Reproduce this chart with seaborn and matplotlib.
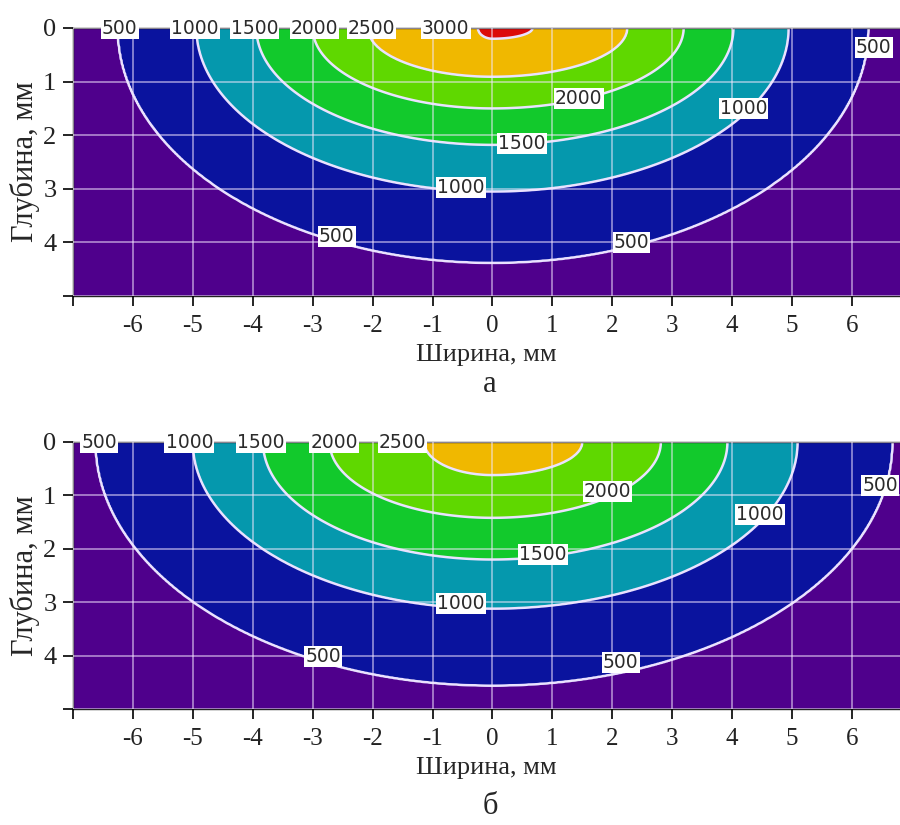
import numpy as np
import seaborn as sns
import matplotlib.pyplot as plt

# contour levels and the extents of each isoline (mm)
# panel "а"
levels_a = [500, 1000, 1500, 2000, 2500, 3000]
left_a = [6.25, 4.94, 3.94, 3.00, 2.08, 0.24]    # half-width to the left of 0 at the surface
right_a = [6.27, 4.94, 4.02, 3.19, 2.25, 0.67]   # half-width to the right of 0
depth_a = [4.38, 3.05, 2.18, 1.50, 0.91, 0.20]   # depth under x = 0
peak_a = 3150

# panel "б"
levels_b = [500, 1000, 1500, 2000, 2500]
left_b = [6.62, 5.00, 3.83, 2.72, 1.14]
right_b = [6.67, 5.09, 3.92, 2.81, 1.50]
depth_b = [4.56, 3.12, 2.20, 1.42, 0.62]
peak_b = 2800

x_ticks = [-6, -5, -4, -3, -2, -1, 0, 1, 2, 3, 4, 5, 6]
y_ticks = [0, 1, 2, 3, 4]

band_colors = ["#4f008c", "#0a139e", "#0598ad", "#12c92c", "#5fd800", "#f0b800", "#dc0a0a"]

# where the inline labels sit (x, y, level)
labels_pos_a = [(-6.22, 0, 500), (-4.97, 0, 1000), (-3.97, 0, 1500), (-2.97, 0, 2000),
                (-2.02, 0, 2500), (-0.78, 0, 3000), (6.36, 0.36, 500), (1.44, 1.31, 2000),
                (4.19, 1.50, 1000), (0.49, 2.15, 1500), (-0.53, 2.97, 1000),
                (-2.60, 3.89, 500), (2.32, 4.00, 500)]
labels_pos_b = [(-6.56, 0, 500), (-5.06, 0, 1000), (-3.86, 0, 1500), (-2.64, 0, 2000),
                (-1.50, 0, 2500), (6.47, 0.82, 500), (1.92, 0.93, 2000), (4.46, 1.36, 1000),
                (0.84, 2.11, 1500), (-0.53, 3.03, 1000), (-2.83, 4.02, 500), (2.14, 4.13, 500)]


def build_field(levels, left, right, depth, peak, x, y):
    # interpolate between the read isolines along rays from the origin
    X, Y = np.meshgrid(x, y)
    theta = np.arctan2(Y, X)
    rho = np.hypot(X, Y)
    c, s = np.cos(theta), np.sin(theta)
    d = []
    for aL, aR, b in zip(left, right, depth):
        a = np.where(c < 0, aL, aR)
        d.append(1.0 / np.sqrt((c / a) ** 2 + (s / b) ** 2))
    Z = levels[0] * d[0] / np.maximum(rho, 1e-6)
    for i in range(len(levels) - 1):
        m = (rho < d[i]) & (rho >= d[i + 1])
        t = (d[i] - rho) / (d[i] - d[i + 1])
        Z = np.where(m, levels[i] + (levels[i + 1] - levels[i]) * t, Z)
    m = rho < d[-1]
    Z = np.where(m, levels[-1] + (peak - levels[-1]) * (1 - rho / d[-1]), Z)
    return X, Y, Z


def draw_panel(ax, levels, left, right, depth, peak, label_pos):
    x = np.linspace(-7, 6.8, 700)
    y = np.linspace(0, 5, 350)
    X, Y, Z = build_field(levels, left, right, depth, peak, x, y)
    bounds = [-1] + levels + [5000]
    ax.contourf(X, Y, Z, levels=bounds, colors=band_colors[:len(bounds) - 1])
    ax.contour(X, Y, Z, levels=levels, colors="#eae2ff", linewidths=1.8)
    ax.set_axisbelow(False)
    ax.grid(True, color="#f4e8ff", alpha=0.55, lw=1.3)
    for lx, ly, lv in label_pos:
        ax.text(lx, ly, str(lv), ha="center", va="center", fontsize=13.5,
                family="DejaVu Sans", color="#2b2b2b", zorder=5, clip_on=False,
                bbox=dict(boxstyle="square,pad=0.06", fc="white", ec="none"))
    ax.set_xlim(-7, 6.8)
    ax.set_ylim(5, 0)
    ax.set_xticks([-7] + x_ticks)
    ax.set_xticklabels([""] + [str(t) for t in x_ticks], fontsize=18)
    ax.set_yticks(y_ticks + [5])
    ax.set_yticklabels([str(t) for t in y_ticks] + [""], fontsize=19)
    ax.tick_params(axis="both", direction="out", length=7, width=1.2,
                   colors="black", labelcolor="#222222")
    ax.tick_params(axis="x", pad=7)
    ax.tick_params(axis="y", pad=5)
    ax.spines["right"].set_visible(False)
    for sp in ["left", "bottom", "top"]:
        ax.spines[sp].set_linewidth(1.0)
        ax.spines[sp].set_color("#222222")
    ax.set_xlabel("Ширина, мм", fontsize=19, labelpad=5)
    ax.set_ylabel("Глубина, мм", fontsize=22, labelpad=2)


sns.set_theme(style="ticks")
plt.rcParams["font.family"] = ["Liberation Serif", "DejaVu Serif"]

fig = plt.figure(figsize=(9, 8.25), dpi=100)
ax1 = fig.add_axes([73 / 900, 1 - 296 / 825, 827 / 900, 268 / 825])
ax2 = fig.add_axes([73 / 900, 1 - 709 / 825, 827 / 900, 267 / 825])

draw_panel(ax1, levels_a, left_a, right_a, depth_a, peak_a, labels_pos_a)
draw_panel(ax2, levels_b, left_b, right_b, depth_b, peak_b, labels_pos_b)

fig.text(490 / 900, 1 - 384 / 825, "а", ha="center", va="center", fontsize=22)
fig.text(490 / 900, 1 - 807 / 825, "б", ha="center", va="center", fontsize=22)

fig.savefig("out.png", dpi=100, facecolor="white")
